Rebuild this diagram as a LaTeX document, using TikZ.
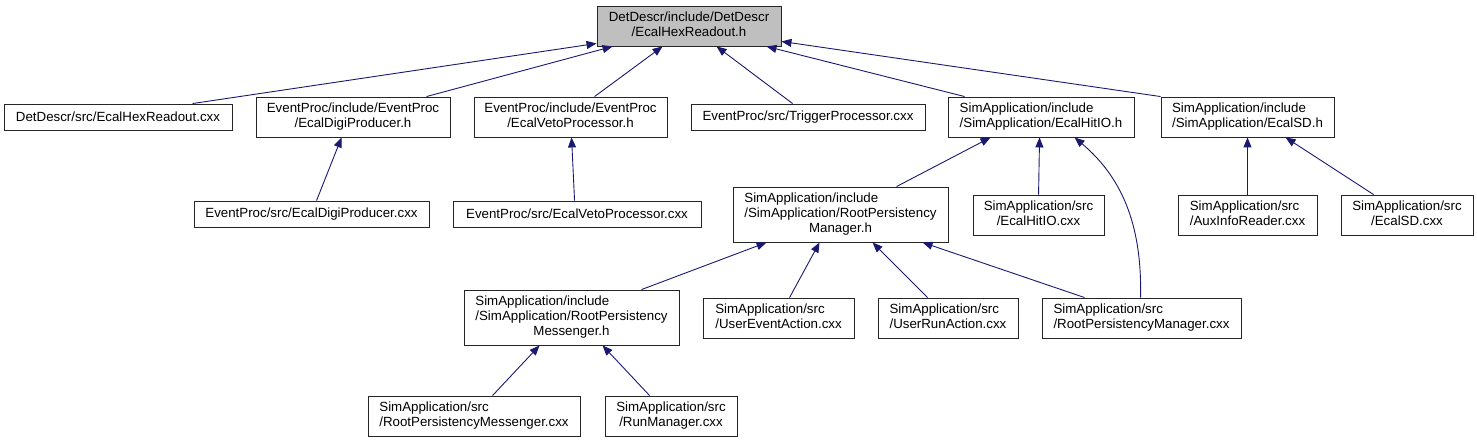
\documentclass[tikz,border=0pt]{standalone}
\usepackage{fontspec}
\setmainfont{Liberation Sans}
\usetikzlibrary{arrows.meta}
\definecolor{edgeblue}{HTML}{191970}
\definecolor{rootgray}{HTML}{BFBFBF}
\newcommand{\twoL}[2]{\begin{tabular}{@{}l@{}}#1\\\multicolumn{1}{@{}c@{}}{#2}\end{tabular}}
\newcommand{\twoC}[2]{\begin{tabular}{@{}c@{}}#1\\#2\end{tabular}}
\newcommand{\threeL}[3]{\begin{tabular}{@{}l@{}}#1\\#2\\\multicolumn{1}{@{}c@{}}{#3}\end{tabular}}
\begin{document}
\begin{tikzpicture}[x=1pt,y=-1pt,
  box/.style={draw=black!85,line width=0.9pt,fill=white,inner sep=0pt,
    font=\fontsize{13.3pt}{14.7pt}\selectfont},
  edge/.style={draw=edgeblue,line width=0.9pt,
    -{Triangle[length=10pt,width=8pt,fill=edgeblue]}}]
\useasboundingbox (0,0) rectangle (1477,443);
% row 0
\node[box,fill=rootgray,minimum width=184pt,minimum height=40pt] (root) at (689,26) {\twoC{DetDescr/include/DetDescr}{/EcalHexReadout.h}};
% row 1
\node[box,minimum width=228pt,minimum height=26pt] (hexcxx) at (118,117) {DetDescr/src/EcalHexReadout.cxx};
\node[box,minimum width=194pt,minimum height=40pt] (digih) at (353,117) {\twoC{EventProc/include/EventProc}{/EcalDigiProducer.h}};
\node[box,minimum width=193pt,minimum height=40pt] (vetoh) at (570.5,117) {\twoC{EventProc/include/EventProc}{/EcalVetoProcessor.h}};
\node[box,minimum width=234pt,minimum height=26pt] (trig) at (808,117) {EventProc/src/TriggerProcessor.cxx};
\node[box,minimum width=186pt,minimum height=40pt] (hitioh) at (1041,117) {\twoL{SimApplication/include}{/SimApplication/EcalHitIO.h}};
\node[box,minimum width=173pt,minimum height=40pt] (sdh) at (1247.5,117) {\twoL{SimApplication/include}{/SimApplication/EcalSD.h}};
% row 2
\node[box,minimum width=235pt,minimum height=26pt] (digicxx) at (311.5,214) {EventProc/src/EcalDigiProducer.cxx};
\node[box,minimum width=248pt,minimum height=26pt] (vetocxx) at (577,214) {EventProc/src/EcalVetoProcessor.cxx};
\node[box,minimum width=215pt,minimum height=55pt] (rpmh) at (840.5,214.5) {\threeL{SimApplication/include}{/SimApplication/RootPersistency}{Manager.h}};
\node[box,minimum width=131pt,minimum height=40pt] (hitiocxx) at (1038.5,215) {\twoL{SimApplication/src}{/EcalHitIO.cxx}};
\node[box,minimum width=139pt,minimum height=40pt] (auxcxx) at (1247.5,215) {\twoL{SimApplication/src}{/AuxInfoReader.cxx}};
\node[box,minimum width=132pt,minimum height=40pt] (sdcxx) at (1407,215) {\twoL{SimApplication/src}{/EcalSD.cxx}};
% row 3
\node[box,minimum width=215pt,minimum height=55pt] (messh) at (571.5,317.5) {\threeL{SimApplication/include}{/SimApplication/RootPersistency}{Messenger.h}};
\node[box,minimum width=151pt,minimum height=40pt] (ueacxx) at (778.5,318) {\twoL{SimApplication/src}{/UserEventAction.cxx}};
\node[box,minimum width=140pt,minimum height=40pt] (uracxx) at (948,318) {\twoL{SimApplication/src}{/UserRunAction.cxx}};
\node[box,minimum width=199pt,minimum height=40pt] (rpmcxx) at (1141.5,318) {\twoL{SimApplication/src}{/RootPersistencyManager.cxx}};
% row 4
\node[box,minimum width=212pt,minimum height=40pt] (messcxx) at (474,416) {\twoL{SimApplication/src}{/RootPersistencyMessenger.cxx}};
\node[box,minimum width=132pt,minimum height=40pt] (runcxx) at (671,416) {\twoL{SimApplication/src}{/RunManager.cxx}};
% edges
\draw[edge] ([xshift=189pt]hexcxx.north west) -- ([yshift=3pt]root.south west);
\draw[edge] ([xshift=171pt]digih.north west) -- ([xshift=16pt]root.south west);
\draw[edge] ([xshift=121pt]vetoh.north west) -- ([xshift=66pt]root.south west);
\draw[edge] ([xshift=102pt]trig.north west) -- ([xshift=120pt]root.south west);
\draw[edge] ([xshift=17pt]hitioh.north west) -- ([xshift=170pt]root.south west);
\draw[edge] (sdh.north west) -- ([yshift=5pt]root.south east);
\draw[edge] ([xshift=123pt]digicxx.north west) -- ([xshift=86pt]digih.south west);
\draw[edge] ([xshift=122pt]vetocxx.north west) -- ([xshift=98pt]vetoh.south west);
\draw[edge] ([xshift=164pt]rpmh.north west) -- ([xshift=43pt]hitioh.south west);
\draw[edge] ([xshift=66pt]hitiocxx.north west) -- ([xshift=92pt]hitioh.south west);
\draw[edge] ([xshift=99pt]rpmcxx.north west) .. controls (1142,230) and (1125,180) .. ([xshift=127pt]hitioh.south west);
\draw[edge] (auxcxx.north) -- (sdh.south);
\draw[edge] ([xshift=33pt]sdcxx.north west) -- ([xshift=125pt]sdh.south west);
\draw[edge] ([xshift=178pt]messh.north west) -- ([xshift=34pt]rpmh.south west);
\draw[edge] ([xshift=87pt]ueacxx.north west) -- ([xshift=87pt]rpmh.south west);
\draw[edge] ([xshift=50pt]uracxx.north west) -- ([xshift=140pt]rpmh.south west);
\draw[edge] ([xshift=43pt]rpmcxx.north west) -- ([xshift=190pt]rpmh.south west);
\draw[edge] ([xshift=125pt]messcxx.north west) -- ([xshift=76pt]messh.south west);
\draw[edge] ([xshift=45pt]runcxx.north west) -- ([xshift=139pt]messh.south west);
\end{tikzpicture}
\end{document}
